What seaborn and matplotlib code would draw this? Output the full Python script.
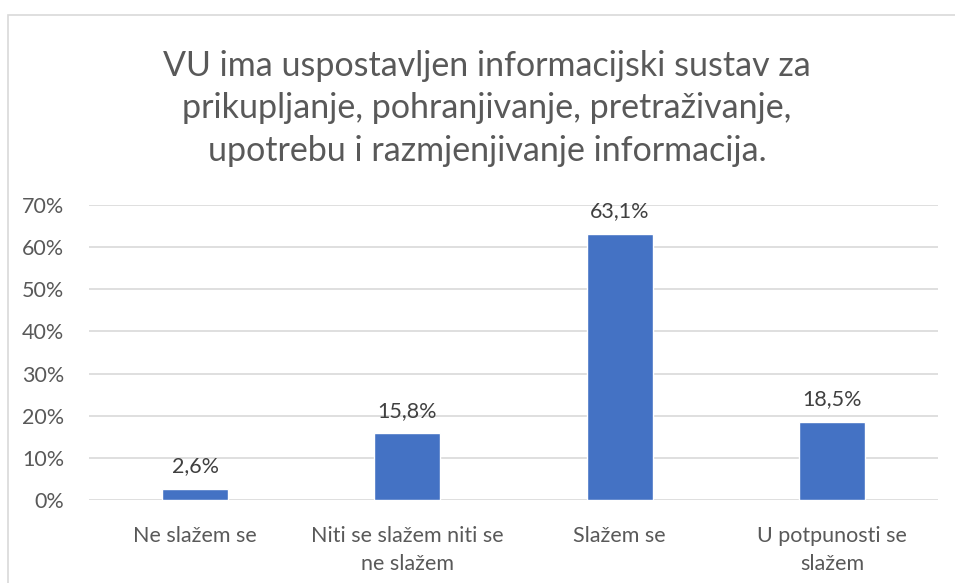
import matplotlib.pyplot as plt
import matplotlib.patches as mpatches
import seaborn as sns
import pandas as pd

categories = ["Ne slažem se", "Niti se slažem niti se\nne slažem", "Slažem se", "U potpunosti se\nslažem"]
values = [0.026, 0.158, 0.631, 0.185]
value_labels = ["2,6%", "15,8%", "63,1%", "18,5%"]
yticks = [0, 0.1, 0.2, 0.3, 0.4, 0.5, 0.6, 0.7]
ytick_labels = ["0%", "10%", "20%", "30%", "40%", "50%", "60%", "70%"]
title = "VU ima uspostavljen informacijski sustav za\nprikupljanje, pohranjivanje, pretraživanje,\nupotrebu i razmjenjivanje informacija."

sns.set_style("white")
plt.rcParams['font.family'] = ['Lato', 'DejaVu Sans']

df = pd.DataFrame({"kat": categories, "udio": values})

fig = plt.figure(figsize=(9.55, 5.83), dpi=100)
ax = fig.add_axes([89/955, 1-500/583, 849/955, 295/583])

sns.barplot(data=df, x="kat", y="udio", color="#4472C4", width=0.31, saturation=1, ax=ax, zorder=3)

ax.set_ylim(0, 0.7)
ax.set_xlim(-0.5, 3.5)
ax.set_yticks(yticks)
ax.set_yticklabels(ytick_labels)
ax.yaxis.grid(True, color="#d9d9d9", linewidth=1.2, zorder=0)
ax.set_axisbelow(True)
for s in ax.spines.values():
    s.set_visible(False)
ax.tick_params(axis="both", length=0, labelsize=15.5, labelcolor="#595959")
ax.tick_params(axis="y", pad=18)
ax.tick_params(axis="x", pad=19)
for t in ax.get_xticklabels():
    t.set_linespacing(1.5)
ax.set_xlabel("")
ax.set_ylabel("")

for i, (v, lab) in enumerate(zip(values, value_labels)):
    ax.annotate(lab, (i, v), xytext=(0, 9), textcoords="offset points",
                ha="center", va="bottom", fontsize=15.5, color="#404040")

fig.text(0.51, 1-50/583, title, ha="center", va="top", fontsize=24.5,
         color="#595959", linespacing=1.4)

# chart border
fig.patches.append(mpatches.Rectangle((8/955, -0.1), 1.2, 1-15/583+0.1,
                                      transform=fig.transFigure, fill=False,
                                      edgecolor="#d9d9d9", linewidth=1.2))

fig.savefig("out.png", dpi=100)
